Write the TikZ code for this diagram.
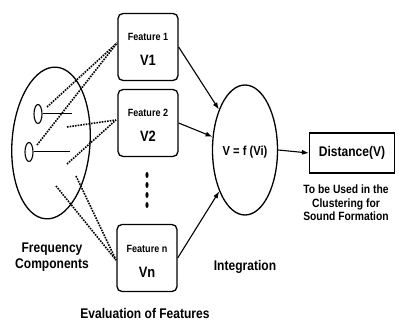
\documentclass[tikz,border=0pt]{standalone}
\usepackage{fontspec}
\setmainfont[FakeStretch=0.86]{Liberation Sans}
\usetikzlibrary{shapes.geometric,arrows.meta}
\begin{document}
\begin{tikzpicture}[x=1pt,y=-1pt,
  every node/.style={font=\bfseries},
  feat/.style={draw, line width=1.3pt, rounded corners=5pt,
    minimum width=60pt, minimum height=67pt, align=center, inner sep=0pt},
  oval/.style={ellipse, draw, line width=1.3pt, inner sep=0pt},
  knob/.style={ellipse, draw, line width=1.1pt, minimum width=8pt, minimum height=19pt, inner sep=0pt},
  link/.style={line width=1.6pt, dash pattern=on 1.6pt off 1.1pt},
  arr/.style={line width=1.1pt, -{Latex[length=7pt,width=5pt]}},
  small/.style={font=\bfseries\fontsize{10.5}{12}\selectfont},
  big/.style={font=\bfseries\fontsize{15}{17}\selectfont},
  lbl/.style={font=\bfseries\fontsize{14}{16}\selectfont, align=center}]
\useasboundingbox (0,0) rectangle (398,320);

% frequency components
\node[oval, rotate=-4, minimum width=78pt, minimum height=152pt] (freq) at (51,143) {};
\node[knob] (k1) at (38,114) {};
\node[knob] (k2) at (29,152) {};
\coordinate (e1) at (72,114);
\coordinate (e2) at (70,152);
\draw[line width=1pt] (k1.east) -- (e1);
\draw[line width=1pt] (k2.east) -- (e2);

% feature boxes
\node[feat] (f1) at (148,47) {};
\node[small] at (148,37) {Feature 1};
\node[big] at (148,60) {V1};
\node[feat] (f2) at (148,123) {};
\node[small] at (148,113) {Feature 2};
\node[big] at (148,136) {V2};
\node[feat] (fn) at (147,258) {};
\node[small] at (147,249) {Feature n};
\node[big] at (147,272) {Vn};

% vertical dots
\foreach \yy in {175,185,195,205}
  \fill (147,\yy) ellipse (1.6pt and 3pt);

% dotted links
\coordinate (s1) at (47,107);
\coordinate (s2) at (37,145);
\coordinate (s3) at (67,127);
\coordinate (s4) at (67,164);
\coordinate (s5) at (56,186);
\coordinate (s6) at (76,176);
\coordinate (t1) at (117,43);
\coordinate (t2) at (116,120);
\coordinate (tn) at (116,260);
\draw[link] (s1) -- (t1);
\draw[link] (s2) -- (t1);
\draw[link] (s3) -- (t2);
\draw[link] (s4) -- (t2);
\draw[link] (s5) -- (tn);
\draw[link] (s6) -- (tn);

% integration
\node[oval, minimum width=65pt, minimum height=130pt] (v) at (245,150) {};
\node[font=\bfseries\fontsize{13}{15}\selectfont] at (245,152) {V = f (Vi)};
\draw[arr] (f1.east) -- (v);
\draw[arr] (f2.east) -- (v);
\draw[arr] (fn.east) -- (v);

% distance
\node[draw, line width=1.1pt, minimum width=85pt, minimum height=40pt,
  font=\bfseries\fontsize{14}{16}\selectfont] (d) at (352,153) {Distance(V)};
\draw[arr] (v.east) -- (d.west);

% labels
\node[font=\bfseries\fontsize{12}{13.5}\selectfont, align=center] at (346,203)
  {To be Used in the\\Clustering for\\Sound Formation};
\node[lbl] at (52,257) {Frequency\\Components};
\node[lbl] at (245,267) {Integration};
\node[lbl] at (145,313) {Evaluation of Features};
\end{tikzpicture}
\end{document}
